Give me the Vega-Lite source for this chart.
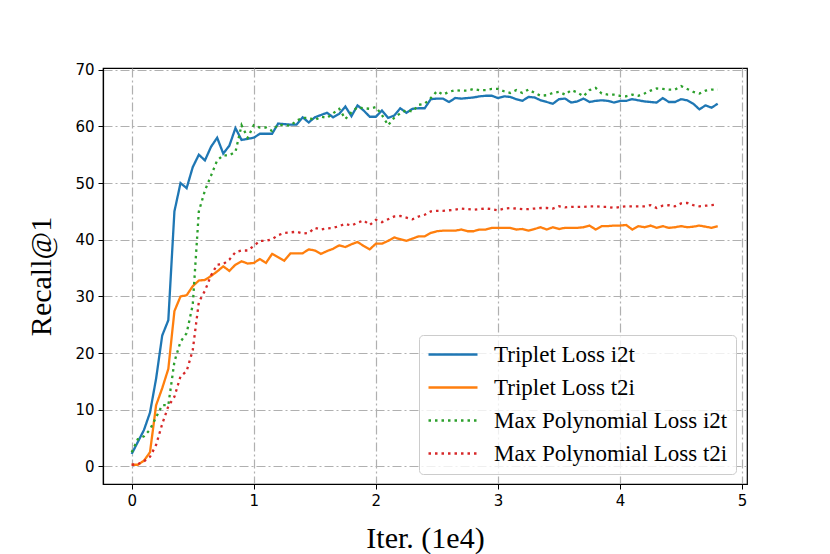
{
  "$schema": "https://vega.github.io/schema/vega-lite/v6.json",
  "width": 644,
  "height": 416,
  "autosize": {"type": "none"},
  "padding": {"left": 103, "top": 68, "right": 83, "bottom": 70},
  "background": "white",
  "config": {
    "view": {"stroke": "black", "strokeWidth": 1.2},
    "axis": {
      "domainColor": "black",
      "domainWidth": 1.2,
      "tickColor": "black",
      "tickSize": 5,
      "tickWidth": 1,
      "labelFont": "DejaVu Sans",
      "labelFontSize": 15,
      "labelColor": "black",
      "titleFont": "Liberation Serif",
      "titleFontSize": 30,
      "titleFontWeight": "normal",
      "titleColor": "black",
      "grid": true,
      "gridColor": "#b0b0b0",
      "gridWidth": 1.2,
      "gridDash": [9, 3, 2, 3]
    }
  },
  "data": {
    "values": [
      {"x":0.00,"ti":2.2,"tt":0.3,"mi":2.5,"mt":0.3},
      {"x":0.05,"ti":4.3,"tt":0.3,"mi":4.8,"mt":0.4},
      {"x":0.10,"ti":6.4,"tt":1.0,"mi":5.3,"mt":0.9},
      {"x":0.15,"ti":9.5,"tt":2.5,"mi":6.5,"mt":1.7},
      {"x":0.20,"ti":15.5,"tt":10.8,"mi":8.7,"mt":3.8},
      {"x":0.25,"ti":23.1,"tt":13.8,"mi":10.8,"mt":7.5},
      {"x":0.30,"ti":25.8,"tt":17.2,"mi":10.8,"mt":10.6},
      {"x":0.35,"ti":45,"tt":27.4,"mi":18.5,"mt":12.3},
      {"x":0.40,"ti":50,"tt":30,"mi":22,"mt":15.9},
      {"x":0.45,"ti":49.1,"tt":30.2,"mi":23.5,"mt":16.8},
      {"x":0.50,"ti":52.8,"tt":31.8,"mi":28.5,"mt":20.5},
      {"x":0.55,"ti":55,"tt":32.8,"mi":45,"mt":29},
      {"x":0.60,"ti":54,"tt":32.9,"mi":48.7,"mt":31},
      {"x":0.65,"ti":56.4,"tt":33.6,"mi":51.3,"mt":33.7},
      {"x":0.70,"ti":58,"tt":34.4,"mi":54,"mt":35.6},
      {"x":0.75,"ti":55.2,"tt":35.3,"mi":54.9,"mt":35.7},
      {"x":0.80,"ti":56.6,"tt":34.5,"mi":54.9,"mt":36.5},
      {"x":0.85,"ti":59.7,"tt":35.6,"mi":55.5,"mt":37.8},
      {"x":0.90,"ti":57.6,"tt":36.2,"mi":60.2,"mt":38.1},
      {"x":0.95,"ti":57.8,"tt":35.8,"mi":58,"mt":38.1},
      {"x":1.00,"ti":58,"tt":35.9,"mi":60.2,"mt":38.9},
      {"x":1.05,"ti":58.7,"tt":36.6,"mi":59.8,"mt":39.8},
      {"x":1.10,"ti":58.7,"tt":35.9,"mi":59.8,"mt":39.8},
      {"x":1.15,"ti":58.7,"tt":37.5,"mi":59.2,"mt":40.1},
      {"x":1.20,"ti":60.5,"tt":36.9,"mi":60.3,"mt":40.8},
      {"x":1.25,"ti":60.4,"tt":36.3,"mi":60.2,"mt":41.2},
      {"x":1.30,"ti":60.3,"tt":37.6,"mi":60.1,"mt":41.3},
      {"x":1.35,"ti":60.3,"tt":37.6,"mi":61,"mt":41.4},
      {"x":1.40,"ti":61.6,"tt":37.6,"mi":61.5,"mt":41.1},
      {"x":1.45,"ti":60.7,"tt":38.3,"mi":61.5,"mt":41.2},
      {"x":1.50,"ti":61.6,"tt":38.1,"mi":61.1,"mt":42.1},
      {"x":1.55,"ti":62,"tt":37.5,"mi":61.7,"mt":41.8},
      {"x":1.60,"ti":62.4,"tt":38,"mi":61.5,"mt":42},
      {"x":1.65,"ti":61.6,"tt":38.4,"mi":62.3,"mt":42.1},
      {"x":1.70,"ti":62.2,"tt":39,"mi":63.1,"mt":42.4},
      {"x":1.75,"ti":63.5,"tt":38.7,"mi":61.3,"mt":42.8},
      {"x":1.80,"ti":61.8,"tt":39.2,"mi":62.5,"mt":42.5},
      {"x":1.85,"ti":63.7,"tt":39.6,"mi":63.4,"mt":43},
      {"x":1.90,"ti":62.8,"tt":38.9,"mi":63.2,"mt":43.4},
      {"x":1.95,"ti":61.7,"tt":38.3,"mi":63.1,"mt":42.6},
      {"x":2.00,"ti":61.7,"tt":39.3,"mi":63.4,"mt":43.5},
      {"x":2.05,"ti":62.8,"tt":39.3,"mi":62,"mt":43.1},
      {"x":2.10,"ti":61.5,"tt":39.8,"mi":60.2,"mt":43.6},
      {"x":2.15,"ti":61.9,"tt":40.4,"mi":61.5,"mt":44.1},
      {"x":2.20,"ti":63.2,"tt":40.1,"mi":62.3,"mt":44.2},
      {"x":2.25,"ti":62.4,"tt":39.8,"mi":62.9,"mt":43.9},
      {"x":2.30,"ti":63.1,"tt":40.2,"mi":62.6,"mt":43.6},
      {"x":2.35,"ti":63.2,"tt":40.6,"mi":63.8,"mt":44.1},
      {"x":2.40,"ti":63.2,"tt":40.6,"mi":64,"mt":44.4},
      {"x":2.45,"ti":64.8,"tt":41.2,"mi":65,"mt":45},
      {"x":2.50,"ti":64.9,"tt":41.5,"mi":66.2,"mt":45.1},
      {"x":2.55,"ti":64.9,"tt":41.6,"mi":65.6,"mt":45.1},
      {"x":2.60,"ti":64.3,"tt":41.6,"mi":66.1,"mt":45.2},
      {"x":2.65,"ti":65,"tt":41.6,"mi":66.4,"mt":45.3},
      {"x":2.70,"ti":64.9,"tt":41.8,"mi":66.3,"mt":45.5},
      {"x":2.75,"ti":65,"tt":41.5,"mi":66.3,"mt":45.4},
      {"x":2.80,"ti":65.1,"tt":41.5,"mi":66.6,"mt":45.3},
      {"x":2.85,"ti":65.3,"tt":41.8,"mi":66.4,"mt":45.4},
      {"x":2.90,"ti":65.4,"tt":41.8,"mi":66.4,"mt":45.5},
      {"x":2.95,"ti":65.4,"tt":42.1,"mi":66.6,"mt":45.4},
      {"x":3.00,"ti":65,"tt":42.1,"mi":66.6,"mt":45.2},
      {"x":3.05,"ti":65.3,"tt":42.1,"mi":66.2,"mt":45.5},
      {"x":3.10,"ti":65.2,"tt":42.1,"mi":65.9,"mt":45.6},
      {"x":3.15,"ti":64.8,"tt":41.8,"mi":66.4,"mt":45.5},
      {"x":3.20,"ti":64.5,"tt":41.9,"mi":65.9,"mt":45.4},
      {"x":3.25,"ti":65.2,"tt":41.6,"mi":66.5,"mt":45.4},
      {"x":3.30,"ti":65.1,"tt":41.9,"mi":65.9,"mt":45.5},
      {"x":3.35,"ti":64.6,"tt":42.2,"mi":65.4,"mt":45.6},
      {"x":3.40,"ti":64.3,"tt":41.8,"mi":65.5,"mt":45.6},
      {"x":3.45,"ti":64,"tt":42.2,"mi":65.9,"mt":45.5},
      {"x":3.50,"ti":64.8,"tt":41.9,"mi":66.1,"mt":45.9},
      {"x":3.55,"ti":64.9,"tt":42.1,"mi":65.6,"mt":45.7},
      {"x":3.60,"ti":64.2,"tt":42.1,"mi":66.4,"mt":45.8},
      {"x":3.65,"ti":64.4,"tt":42.1,"mi":66,"mt":45.8},
      {"x":3.70,"ti":64.9,"tt":42.2,"mi":65.3,"mt":45.8},
      {"x":3.75,"ti":64.3,"tt":42.5,"mi":66.4,"mt":45.9},
      {"x":3.80,"ti":64.5,"tt":41.8,"mi":66.8,"mt":45.9},
      {"x":3.85,"ti":64.6,"tt":42.4,"mi":65.8,"mt":45.8},
      {"x":3.90,"ti":64.5,"tt":42.4,"mi":65.6,"mt":45.8},
      {"x":3.95,"ti":64.2,"tt":42.5,"mi":65.6,"mt":45.6},
      {"x":4.00,"ti":64.5,"tt":42.5,"mi":65.4,"mt":45.8},
      {"x":4.05,"ti":64.5,"tt":42.6,"mi":65.3,"mt":45.9},
      {"x":4.10,"ti":64.8,"tt":41.8,"mi":65.6,"mt":45.9},
      {"x":4.15,"ti":64.6,"tt":42.4,"mi":65.4,"mt":45.9},
      {"x":4.20,"ti":64.4,"tt":42.2,"mi":65.8,"mt":45.9},
      {"x":4.25,"ti":64.3,"tt":42.5,"mi":66.3,"mt":46.1},
      {"x":4.30,"ti":64.2,"tt":42.1,"mi":66.7,"mt":45.6},
      {"x":4.35,"ti":65,"tt":42.4,"mi":66.6,"mt":46},
      {"x":4.40,"ti":64.3,"tt":42.1,"mi":66.5,"mt":46.1},
      {"x":4.45,"ti":64.3,"tt":42.2,"mi":66.5,"mt":45.9},
      {"x":4.50,"ti":64.8,"tt":42.4,"mi":67.1,"mt":46.4},
      {"x":4.55,"ti":64.6,"tt":42.2,"mi":66.6,"mt":46.5},
      {"x":4.60,"ti":64,"tt":42.3,"mi":66.1,"mt":46.1},
      {"x":4.65,"ti":63,"tt":42.5,"mi":65.8,"mt":45.9},
      {"x":4.70,"ti":63.7,"tt":42.3,"mi":66.3,"mt":46},
      {"x":4.75,"ti":63.3,"tt":42.1,"mi":66.5,"mt":46.1},
      {"x":4.80,"ti":64,"tt":42.4,"mi":66.5,"mt":46.2}
    ]
  },
  "transform": [
    {"fold": ["ti", "tt", "mi", "mt"], "as": ["series", "value"]}
  ],
  "mark": {"type": "line", "strokeWidth": 2.3, "strokeCap": "butt", "interpolate": "linear"},
  "encoding": {
    "x": {
      "field": "x",
      "type": "quantitative",
      "scale": {"domain": [-0.235, 5.04], "nice": false, "zero": false},
      "axis": {
        "values": [0, 1, 2, 3, 4, 5],
        "title": "Iter. (1e4)",
        "labelPadding": 4,
        "titleBaseline": "alphabetic",
        "titleY": 63
      }
    },
    "y": {
      "field": "value",
      "type": "quantitative",
      "scale": {"domain": [-3.1, 70.3], "nice": false, "zero": false},
      "axis": {
        "values": [0, 10, 20, 30, 40, 50, 60, 70],
        "title": "Recall@1",
        "labelPadding": 4,
        "titleX": -62,
        "titleBaseline": "middle"
      }
    },
    "color": {
      "field": "series",
      "type": "nominal",
      "scale": {
        "domain": ["ti", "tt", "mi", "mt"],
        "range": ["#1f77b4", "#ff7f0e", "#2ca02c", "#d62728"]
      },
      "legend": {
        "title": null,
        "orient": "none",
        "direction": "vertical",
        "legendX": 316,
        "legendY": 267,
        "labelExpr": "{'ti': 'Triplet Loss i2t', 'tt': 'Triplet Loss t2i', 'mi': 'Max Polynomial Loss i2t', 'mt': 'Max Polynomial Loss t2i'}[datum.label]",
        "labelFont": "Liberation Serif",
        "labelFontSize": 23,
        "labelColor": "black",
        "labelLimit": 300,
        "labelOffset": 44,
        "symbolType": "M-1,0H3.9",
        "symbolSize": 400,
        "symbolStrokeWidth": 2.5,
        "rowPadding": 9,
        "padding": 8,
        "strokeColor": "#cccccc",
        "fillColor": "rgba(255,255,255,0.8)",
        "cornerRadius": 4
      }
    },
    "strokeDash": {
      "field": "series",
      "type": "nominal",
      "scale": {
        "domain": ["ti", "tt", "mi", "mt"],
        "range": [[1, 0], [1, 0], [2.5, 4], [2.5, 4]]
      },
      "legend": null
    }
  }
}
